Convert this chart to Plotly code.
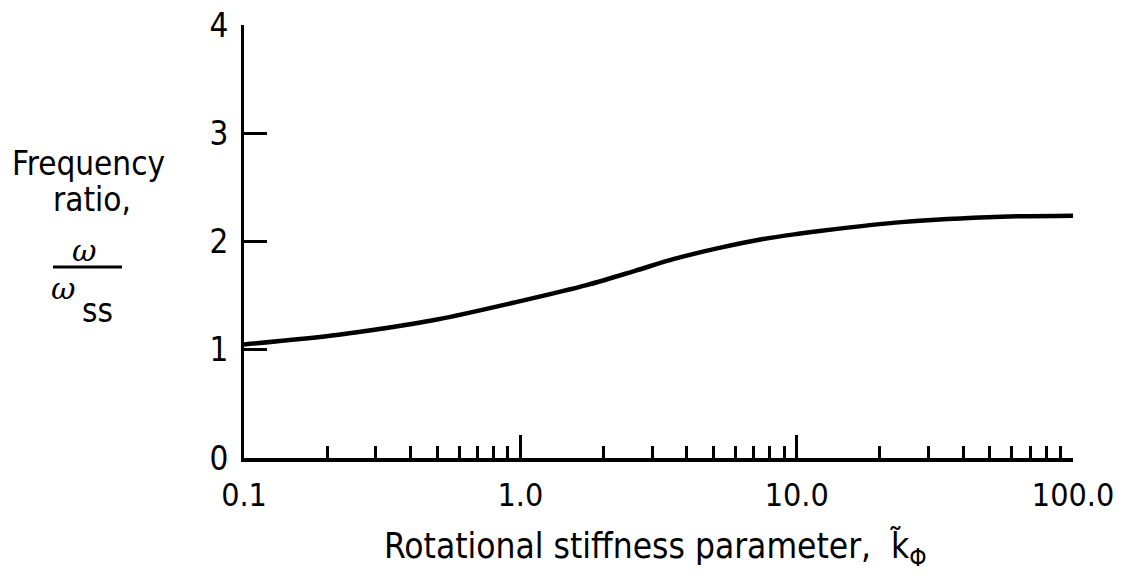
import plotly.graph_objects as go

# Data
stiffness = [0.1, 0.22, 0.5, 1.0, 1.75, 2.6, 3.6, 5.2, 7.4, 10.0, 12.3, 24.0, 55.0, 100.0]
freq_ratio = [1.05, 1.14, 1.28, 1.45, 1.60, 1.73, 1.84, 1.94, 2.02, 2.07, 2.10, 2.18, 2.23, 2.24]

x_major = [0.1, 1.0, 10.0, 100.0]
x_major_text = ["0.1", "1.0", "10.0", "100.0"]
x_minor = [0.2, 0.3, 0.4, 0.5, 0.6, 0.7, 0.8, 0.9,
           2, 3, 4, 5, 6, 7, 8, 9,
           20, 30, 40, 50, 60, 70, 80, 90]
y_ticks = [0, 1, 2, 3, 4]

FONT = "DejaVu Sans Condensed, DejaVu Sans, sans-serif"

fig = go.Figure()
fig.add_trace(go.Scatter(
    x=stiffness, y=freq_ratio, mode="lines",
    line=dict(color="black", width=4.5, shape="spline", smoothing=0.8),
    showlegend=False, hoverinfo="skip",
))

fig.update_layout(
    width=1122, height=585,
    margin=dict(l=244, r=49, t=25, b=127),
    paper_bgcolor="white", plot_bgcolor="white",
    font=dict(family=FONT, size=32, color="black"),
    xaxis=dict(
        type="log", range=[-1, 2], automargin=False,
        tickmode="array", tickvals=x_major, ticktext=x_major_text,
        ticks="inside", ticklen=23, tickwidth=2.5, tickcolor="black",
        minor=dict(tickmode="array", tickvals=x_minor, ticks="inside",
                   ticklen=12, tickwidth=2.5, tickcolor="black", showgrid=False),
        showline=True, linecolor="black", linewidth=3.5,
        showgrid=False, zeroline=False,
        ticklabelstandoff=6, ticklabeloverflow="allow",
        tickfont=dict(family=FONT, size=32, color="black"),
    ),
    yaxis=dict(
        range=[0, 4.002], automargin=False,
        tickmode="array", tickvals=y_ticks,
        ticks="inside", ticklen=23, tickwidth=2.5, tickcolor="black",
        showline=True, linecolor="black", linewidth=3,
        showgrid=False, zeroline=False,
        ticklabelstandoff=6, ticklabeloverflow="allow",
        tickfont=dict(family=FONT, size=33, color="black"),
    ),
)

ann = []
# X axis title
ann.append(dict(xref="paper", yref="paper", x=0.5, y=0, yanchor="top", xanchor="center",
                xshift=-3, yshift=-66, showarrow=False,
                text="Rotational stiffness parameter,  k&#771;<sub>Φ</sub>",
                font=dict(family=FONT, size=35, color="black")))
# Y axis title block (positions relative to top-left corner of plot area)
ann.append(dict(xref="paper", yref="paper", x=0, y=1, xanchor="center", yanchor="middle",
                xshift=-156, yshift=-138, showarrow=False, text="Frequency",
                font=dict(family=FONT, size=33, color="black")))
ann.append(dict(xref="paper", yref="paper", x=0, y=1, xanchor="center", yanchor="middle",
                xshift=-152, yshift=-174, showarrow=False, text="ratio,",
                font=dict(family=FONT, size=33, color="black")))
ann.append(dict(xref="paper", yref="paper", x=0, y=1, xanchor="center", yanchor="middle",
                xshift=-160, yshift=-225, showarrow=False, text="<i>ω</i>",
                font=dict(family="DejaVu Serif", size=30, color="black")))
ann.append(dict(xref="paper", yref="paper", x=0, y=1, xanchor="center", yanchor="middle",
                xshift=-181, yshift=-263, showarrow=False,
                text="<i>ω</i>",
                font=dict(family="DejaVu Serif", size=30, color="black")))
ann.append(dict(xref="paper", yref="paper", x=0, y=1, xanchor="center", yanchor="middle",
                xshift=-147, yshift=-285, showarrow=False,
                text="ss",
                font=dict(family=FONT, size=33, color="black")))
fig.update_layout(annotations=ann)

# fraction bar
fig.add_shape(type="line", xref="paper", yref="paper",
              xsizemode="pixel", ysizemode="pixel", xanchor=0, yanchor=1,
              x0=-191, x1=-122, y0=-242, y1=-242,
              line=dict(color="black", width=3))

fig.write_html("out.html",
               config={"displayModeBar": False},
               post_script="document.body.style.margin='0';document.body.style.overflow='hidden';")
